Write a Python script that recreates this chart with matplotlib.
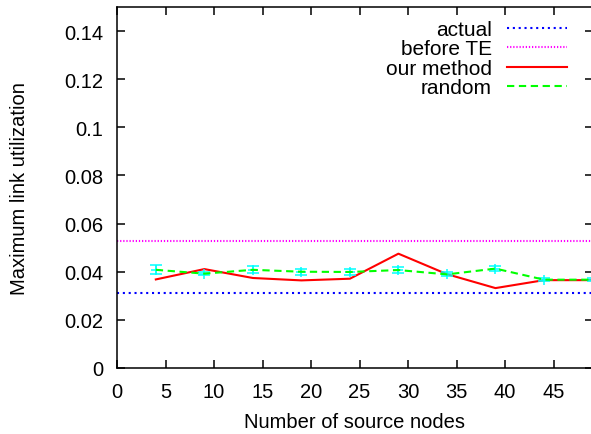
import matplotlib
matplotlib.use("Agg")
import matplotlib.pyplot as plt
import numpy as np

plt.rcParams['font.family'] = ['Liberation Sans', 'DejaVu Sans']

x_nodes = [4, 9, 14, 19, 24, 29, 34, 39, 44, 49]
our_method = [0.0368, 0.0411, 0.0374, 0.0364, 0.0371, 0.0475, 0.0390, 0.0332, 0.0365, 0.0365]
random_vals = [0.0408, 0.0392, 0.0408, 0.0400, 0.0399, 0.0407, 0.0389, 0.0413, 0.0367, 0.0367]
random_err = [0.0018, 0.0007, 0.0015, 0.0013, 0.0013, 0.0013, 0.0008, 0.0012, 0.0005, 0.0005]
actual_val = 0.0311
before_te_val = 0.0529

xticks = [0, 5, 10, 15, 20, 25, 30, 35, 40, 45]
yticks = [0, 0.02, 0.04, 0.06, 0.08, 0.1, 0.12, 0.14]
ytick_labels = ["0", "0.02", "0.04", "0.06", "0.08", "0.1", "0.12", "0.14"]

W, H = 591, 435
fig = plt.figure(figsize=(W / 100, H / 100), dpi=100)
left, right, bottom, top = 117, 592.5, 369, 8
ax = fig.add_axes([left / W, 1 - bottom / H, (right - left) / W, (bottom - top) / H])

fs = 14.5
lw = 1.5
ax.axhline(actual_val, color='#0000ff', lw=lw, ls=(0, (1, 1.8)), label='actual')
ax.axhline(before_te_val, color='#ff00ff', lw=lw, ls=(0, (0.6, 0.9)), label='before TE')
ax.plot(x_nodes, our_method, color='#ff0000', lw=lw, label='our method')
ax.errorbar(x_nodes, random_vals, yerr=random_err, fmt='none', ecolor='#00ffff',
            elinewidth=1.1, capsize=4, capthick=1.1)
ax.plot(x_nodes, random_vals, ls='none', marker='+', color='#00ffff', ms=7, mew=1.1)
ax.plot(x_nodes, random_vals, color='#00ff00', lw=lw, ls=(0, (3.5, 2.2)), label='random')

ax.set_xlim(0, 49)
ax.set_ylim(0, 0.15)
ax.set_xticks(xticks)
ax.set_yticks(yticks)
ax.set_yticklabels(ytick_labels)
ax.tick_params(direction='in', length=6, width=1.1, top=True, right=True,
               labelsize=fs, pad=10)
for s in ax.spines.values():
    s.set_linewidth(1.1)

ax.set_xlabel('Number of source nodes', fontsize=fs, labelpad=8)
ax.set_ylabel('Maximum link utilization', fontsize=fs, labelpad=25)

leg = ax.legend(loc='upper right', bbox_to_anchor=(567 / W, 1 - 21 / H),
                bbox_transform=fig.transFigure, frameon=False, markerfirst=False,
                fontsize=15, handlelength=2.9, handletextpad=0.7, labelspacing=0.02,
                borderpad=0, borderaxespad=0)

fig.savefig('out.png', dpi=100)
